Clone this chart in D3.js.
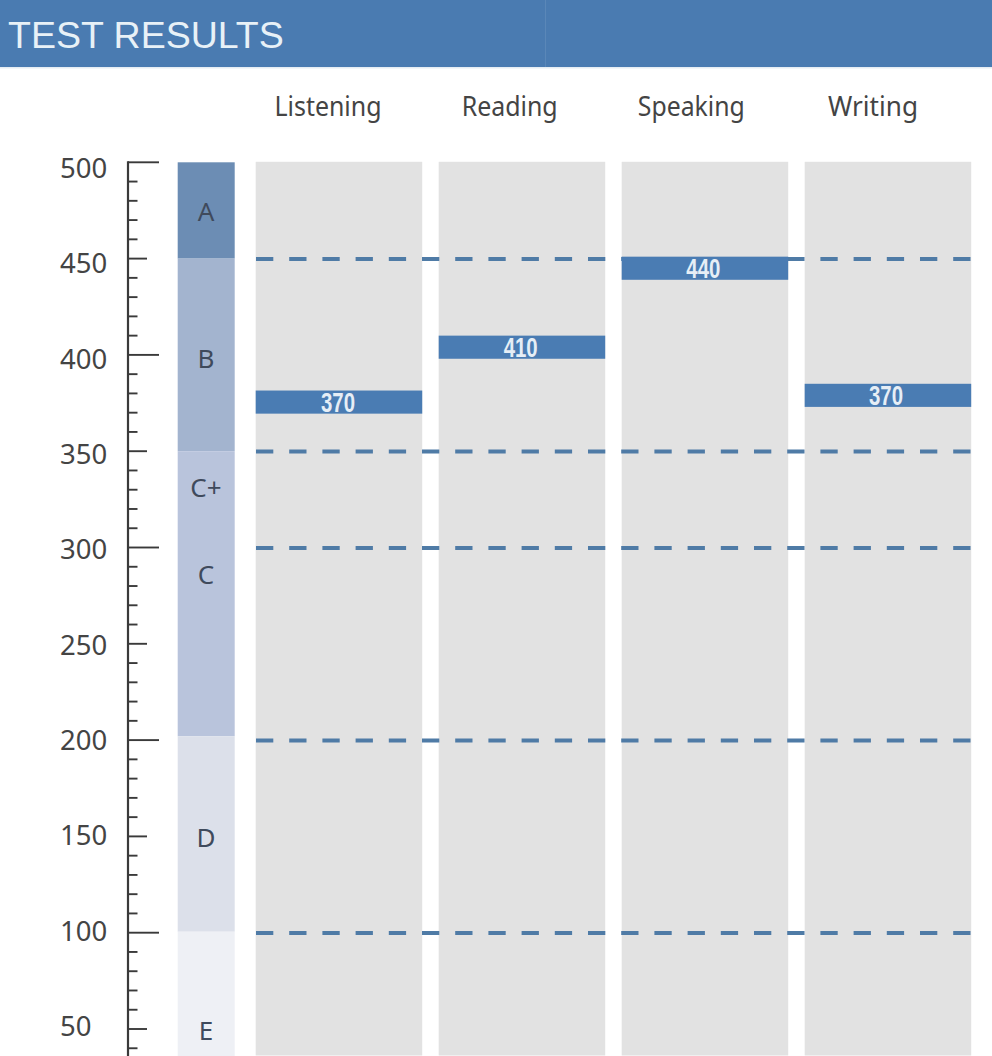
<!DOCTYPE html>
<html><head><meta charset="utf-8">
<script src="https://cdn.jsdelivr.net/npm/d3@7/dist/d3.min.js"></script>
<style>html,body{margin:0;padding:0;background:#fff}svg{display:block}</style>
</head><body><svg id="c" width="992" height="1056"></svg>
<script>
const title = "TEST RESULTS";
const skills = ["Listening","Reading","Speaking","Writing"];
const labels = [370,410,440,370];
const barHigh = [381.5,410,451,385];
const barLow = [369.5,398,439,373];
const cuts = [450,350,300,200,100];
const gradeNames = ["A","B","C+","C","D","E"];
const gradeLabelAt = [474.5,398,331,286,149.5,49];
const bandTop = [500,450,350,202,100.5];
const bandBottom = [450,350,202,100.5,0];
const bandColors = ["#6c8db4","#a3b4cf","#b9c4dc","#dce0ea","#eef0f5"];
const tickLabels = d3.range(50,501,50);
const minorTicks = d3.range(10,500,10);

const svg = d3.select("#c");
const y = d3.scaleLinear().domain([0,500]).range([1125.3,162.3]);
const labelY = d3.scaleLinear().domain([50,500]).range([1026,168]);
const x = d3.scaleBand().domain(skills).range([255.7,971.2]).paddingInner(0.09).paddingOuter(0);
const headX = d3.scaleLinear().domain([0,3]).range([328,873]);
const valX = d3.scaleLinear().domain([0,3]).range([338,886]);

svg.append("rect").attr("width",992).attr("height",67).attr("fill","#4a7bb1");
svg.append("rect").attr("x",545).attr("width",1).attr("height",67).attr("fill","#5a87b8");
svg.append("rect").attr("y",67).attr("width",992).attr("height",1.5).attr("fill","#e6edf3");
svg.append("text").attr("x",8).attr("y",48).text(title)
  .attr("font-family","Liberation Sans").attr("font-size",37.5).attr("fill","#e8f1f7");

// axis
const g = svg.append("g");
g.append("line").attr("x1",128).attr("x2",128).attr("y1",y(500)-1).attr("y2",1056).attr("stroke","#3a3a3a").attr("stroke-width",2.2);
g.selectAll(".t").data(minorTicks.concat([500])).join("line")
  .attr("x1",128).attr("y1",d=>y(d)).attr("y2",d=>y(d))
  .attr("x2",d=>d%100===0?159:d%50===0?147:137.5)
  .attr("stroke","#3a3a3a").attr("stroke-width",1.9);
g.selectAll(".l").data(tickLabels).join("text")
  .attr("x",60).attr("y",d=>labelY(d)+10)
  .text(d=>d).attr("font-family","Noto Sans").attr("font-size",27.5).attr("fill","#444");

// grade bands
svg.selectAll(".g").data(bandTop).join("rect")
  .attr("x",177.7).attr("width",57)
  .attr("y",d=>y(d)).attr("height",(d,i)=>y(bandBottom[i])-y(d)).attr("fill",(d,i)=>bandColors[i]);
svg.selectAll(".gl").data(gradeNames).join("text")
  .attr("x",206).attr("y",(d,i)=>y(gradeLabelAt[i])+9.5).attr("text-anchor","middle")
  .text(d=>d).attr("font-family","Noto Sans").attr("font-size",26).attr("fill","#3f4a5c");

// columns
svg.selectAll(".col").data(skills).join("rect")
  .attr("x",d=>x(d)).attr("width",x.bandwidth()).attr("y",y(500)-0.5).attr("height",1056-y(500)).attr("fill","#e2e2e2");
svg.selectAll(".h").data(skills).join("text")
  .attr("x",(d,i)=>headX(i)).attr("y",116).attr("text-anchor","middle")
  .text(d=>d).attr("font-family","Noto Sans").attr("font-size",26.5).attr("fill","#444")
  .attr("textLength",(d,i)=>[107,96,107,90][i]).attr("lengthAdjust","spacingAndGlyphs");

// dashes
svg.selectAll(".d").data(cuts).join("line")
  .attr("x1",256).attr("x2",972).attr("y1",d=>y(d)+0.4).attr("y2",d=>y(d)+0.4)
  .attr("stroke","#4f7ba6").attr("stroke-width",4).attr("stroke-dasharray","17.3 15.9");

// bars
svg.selectAll(".b").data(skills).join("rect")
  .attr("x",d=>x(d)).attr("width",x.bandwidth())
  .attr("y",(d,i)=>y(barHigh[i])).attr("height",(d,i)=>y(barLow[i])-y(barHigh[i])).attr("fill","#4a7cb3");
svg.selectAll(".bl").data(skills).join("text")
  .attr("text-anchor","middle")
  .attr("x",(d,i)=>valX(i))
  .attr("y",(d,i)=>(y(barHigh[i])+y(barLow[i]))/2+10)
  .text((d,i)=>labels[i]).attr("font-family","Liberation Sans").attr("font-size",27)
  .attr("textLength",34).attr("lengthAdjust","spacingAndGlyphs")
  .attr("font-weight","700").attr("fill","#e6eef6");
</script></body></html>
